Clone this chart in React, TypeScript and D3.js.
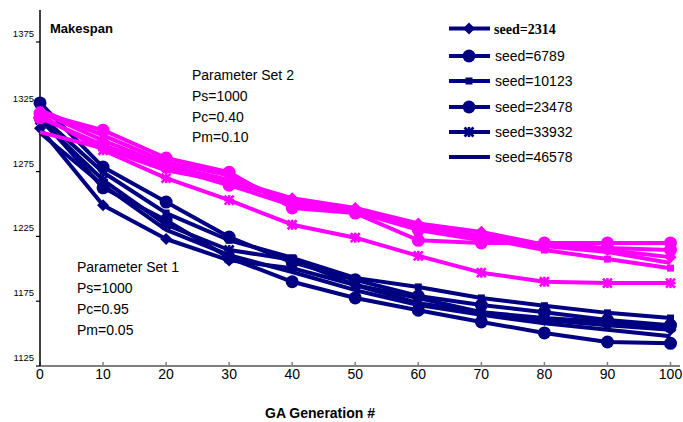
import React from "react";
import * as d3 from "d3";

const generations = [0, 10, 20, 30, 40, 50, 60, 70, 80, 90, 100];
const yTicks = [1125, 1175, 1225, 1275, 1325, 1375];
const seeds = ["seed=2314", "seed=6789", "seed=10123", "seed=23478", "seed=33932", "seed=46578"];
const markers = ["diamond", "circle", "square", "circle", "asterisk", "none"];

// Parameter Set 1 (navy)
const set1_2314 = [1308.5, 1249, 1223, 1206.5, 1200.5, 1187.5, 1177.5, 1166.5, 1160.5, 1156.5, 1153];
const set1_6789 = [1328, 1278.5, 1251.5, 1224.5, 1205, 1191.5, 1179, 1172, 1166.5, 1160.5, 1156.5];
const set1_10123 = [1318.5, 1274.5, 1243, 1222, 1208.5, 1193, 1186, 1177.5, 1171.5, 1166, 1162];
const set1_23478 = [1316.5, 1262.5, 1237.5, 1208.5, 1190, 1177.5, 1168, 1159, 1150.5, 1143.5, 1142.5];
const set1_33932 = [1315, 1268.5, 1234, 1214.5, 1207, 1187.5, 1173.5, 1166.5, 1162, 1159, 1155];
const set1_46578 = [1305, 1264.5, 1230, 1210.5, 1197.5, 1183.5, 1172, 1164.5, 1158, 1153, 1148];

// Parameter Set 2 (magenta)
const set2_2314 = [1321, 1299, 1280, 1268.5, 1254.5, 1247, 1235, 1228.5, 1218.5, 1214.5, 1209];
const set2_6789 = [1320, 1307, 1285.5, 1274.5, 1247, 1243, 1222, 1220, 1220, 1220, 1220];
const set2_10123 = [1322.5, 1303, 1282.5, 1272, 1251, 1245, 1231.5, 1224, 1214.5, 1207.5, 1200.5];
const set2_23478 = [1316.5, 1295.5, 1278.5, 1264.5, 1249, 1244, 1230, 1222, 1219, 1216, 1214.5];
const set2_33932 = [1318.5, 1291.5, 1270, 1253, 1234, 1224, 1210, 1197, 1190, 1189, 1189];
const set2_46578 = [1305.5, 1293, 1276, 1267, 1253, 1245.5, 1234, 1225.5, 1217.5, 1213, 1204.5];

const set1 = [set1_2314, set1_6789, set1_10123, set1_23478, set1_33932, set1_46578];
const set2 = [set2_2314, set2_6789, set2_10123, set2_23478, set2_33932, set2_46578];

const NAVY = "#000080";
const MAGENTA = "#FF00FF";

const x = d3.scaleLinear().domain([0, 100]).range([40, 670.5]);
const y = d3.scaleLinear().domain([1125, 1400]).range([366, 9.6]);

function Marker({ type, cx, cy, color }: { type: string; cx: number; cy: number; color: string }) {
  if (type === "none") return null;
  if (type === "circle") {
    return <circle cx={cx} cy={cy} r={6.5} fill={color} />;
  }
  if (type === "diamond") {
    const s = 6;
    return <path d={`M${cx},${cy - s}L${cx + s},${cy}L${cx},${cy + s}L${cx - s},${cy}Z`} fill={color} />;
  }
  if (type === "square") {
    return <rect x={cx - 3.5} y={cy - 3.5} width={7} height={7} fill={color} />;
  }
  if (type === "asterisk") {
    const s = 4.5;
    return (
      <g stroke={color} strokeWidth={2.6}>
        <line x1={cx - s} y1={cy - s} x2={cx + s} y2={cy + s} />
        <line x1={cx - s} y1={cy + s} x2={cx + s} y2={cy - s} />
        <line x1={cx - s - 0.5} y1={cy} x2={cx + s + 0.5} y2={cy} />
        <line x1={cx} y1={cy - s - 0.5} x2={cx} y2={cy + s + 0.5} />
      </g>
    );
  }
  return null;
}

function Series({ data, color, marker }: { data: number[]; color: string; marker: string }) {
  const line = d3
    .line<number>()
    .x((_, i) => x(generations[i]))
    .y((d) => y(d));
  return (
    <g>
      <path d={line(data) || ""} fill="none" stroke={color} strokeWidth={4} strokeLinejoin="round" />
      {data.map((d, i) => (
        <Marker key={i} type={marker} cx={x(generations[i])} cy={y(d)} color={color} />
      ))}
    </g>
  );
}

const legendRows = [28.5, 56, 81, 107, 132, 157];

export default function App() {
  return (
    <svg width={683} height={422} style={{ position: "absolute", left: 0, top: 0, background: "#fff" }}>
      <rect x={0} y={0} width={683} height={422} fill="#fff" />
      {/* x axis */}
      <line x1={40} y1={366} x2={680} y2={366} stroke="#808080" strokeWidth={2} />
      {generations.map((g) => (
        <g key={g}>
          <line x1={x(g)} y1={362} x2={x(g)} y2={366} stroke="#808080" strokeWidth={1.5} />
          <text x={x(g)} y={379} fontFamily="Liberation Sans, Arial, sans-serif" fontSize={14} textAnchor="middle" fill="#000">
            {g}
          </text>
        </g>
      ))}
      {/* y axis */}
      <line x1={40} y1={10} x2={40} y2={366} stroke="#000" strokeWidth={1.5} />
      {yTicks.map((t) => (
        <g key={t}>
          <line x1={36} y1={y(t)} x2={40} y2={y(t)} stroke="#000" strokeWidth={1.2} />
          <text x={34} y={y(t) - 5} fontFamily="Liberation Sans, Arial, sans-serif" fontSize={9.5} textAnchor="end" fill="#000">
            {t}
          </text>
        </g>
      ))}
      {/* series */}
      {set1.map((d, i) => (
        <Series key={"a" + i} data={d} color={NAVY} marker={markers[i]} />
      ))}
      {set2.map((d, i) => (
        <Series key={"b" + i} data={d} color={MAGENTA} marker={markers[i]} />
      ))}
      {/* texts */}
      <text x={50} y={33} fontFamily="Liberation Sans, Arial, sans-serif" fontWeight="bold" fontSize={13} fill="#000">
        Makespan
      </text>
      <g fontFamily="Liberation Sans, Arial, sans-serif" fontSize={14} fill="#000">
        <text x={192} y={80}>Parameter Set 2</text>
        <text x={192} y={101}>Ps=1000</text>
        <text x={192} y={122}>Pc=0.40</text>
        <text x={192} y={142}>Pm=0.10</text>
        <text x={77} y={272}>Parameter Set 1</text>
        <text x={77} y={293}>Ps=1000</text>
        <text x={77} y={314}>Pc=0.95</text>
        <text x={77} y={335}>Pm=0.05</text>
      </g>
      <text x={265} y={418} fontFamily="Liberation Sans, Arial, sans-serif" fontWeight="bold" fontSize={14} fill="#000">
        GA Generation #
      </text>
      {/* legend */}
      {seeds.map((s, i) => (
        <g key={s}>
          <line x1={449} y1={legendRows[i]} x2={490} y2={legendRows[i]} stroke={NAVY} strokeWidth={4} />
          <Marker type={markers[i]} cx={469} cy={legendRows[i]} color={NAVY} />
          <text
            x={i === 0 ? 494 : 495}
            y={legendRows[i] + 5}
            fontFamily={i === 0 ? "Liberation Serif, Times New Roman, serif" : "Liberation Sans, Arial, sans-serif"}
            fontWeight={i === 0 ? "bold" : "normal"}
            fontSize={14}
            fill="#000"
          >
            {s}
          </text>
        </g>
      ))}
    </svg>
  );
}
